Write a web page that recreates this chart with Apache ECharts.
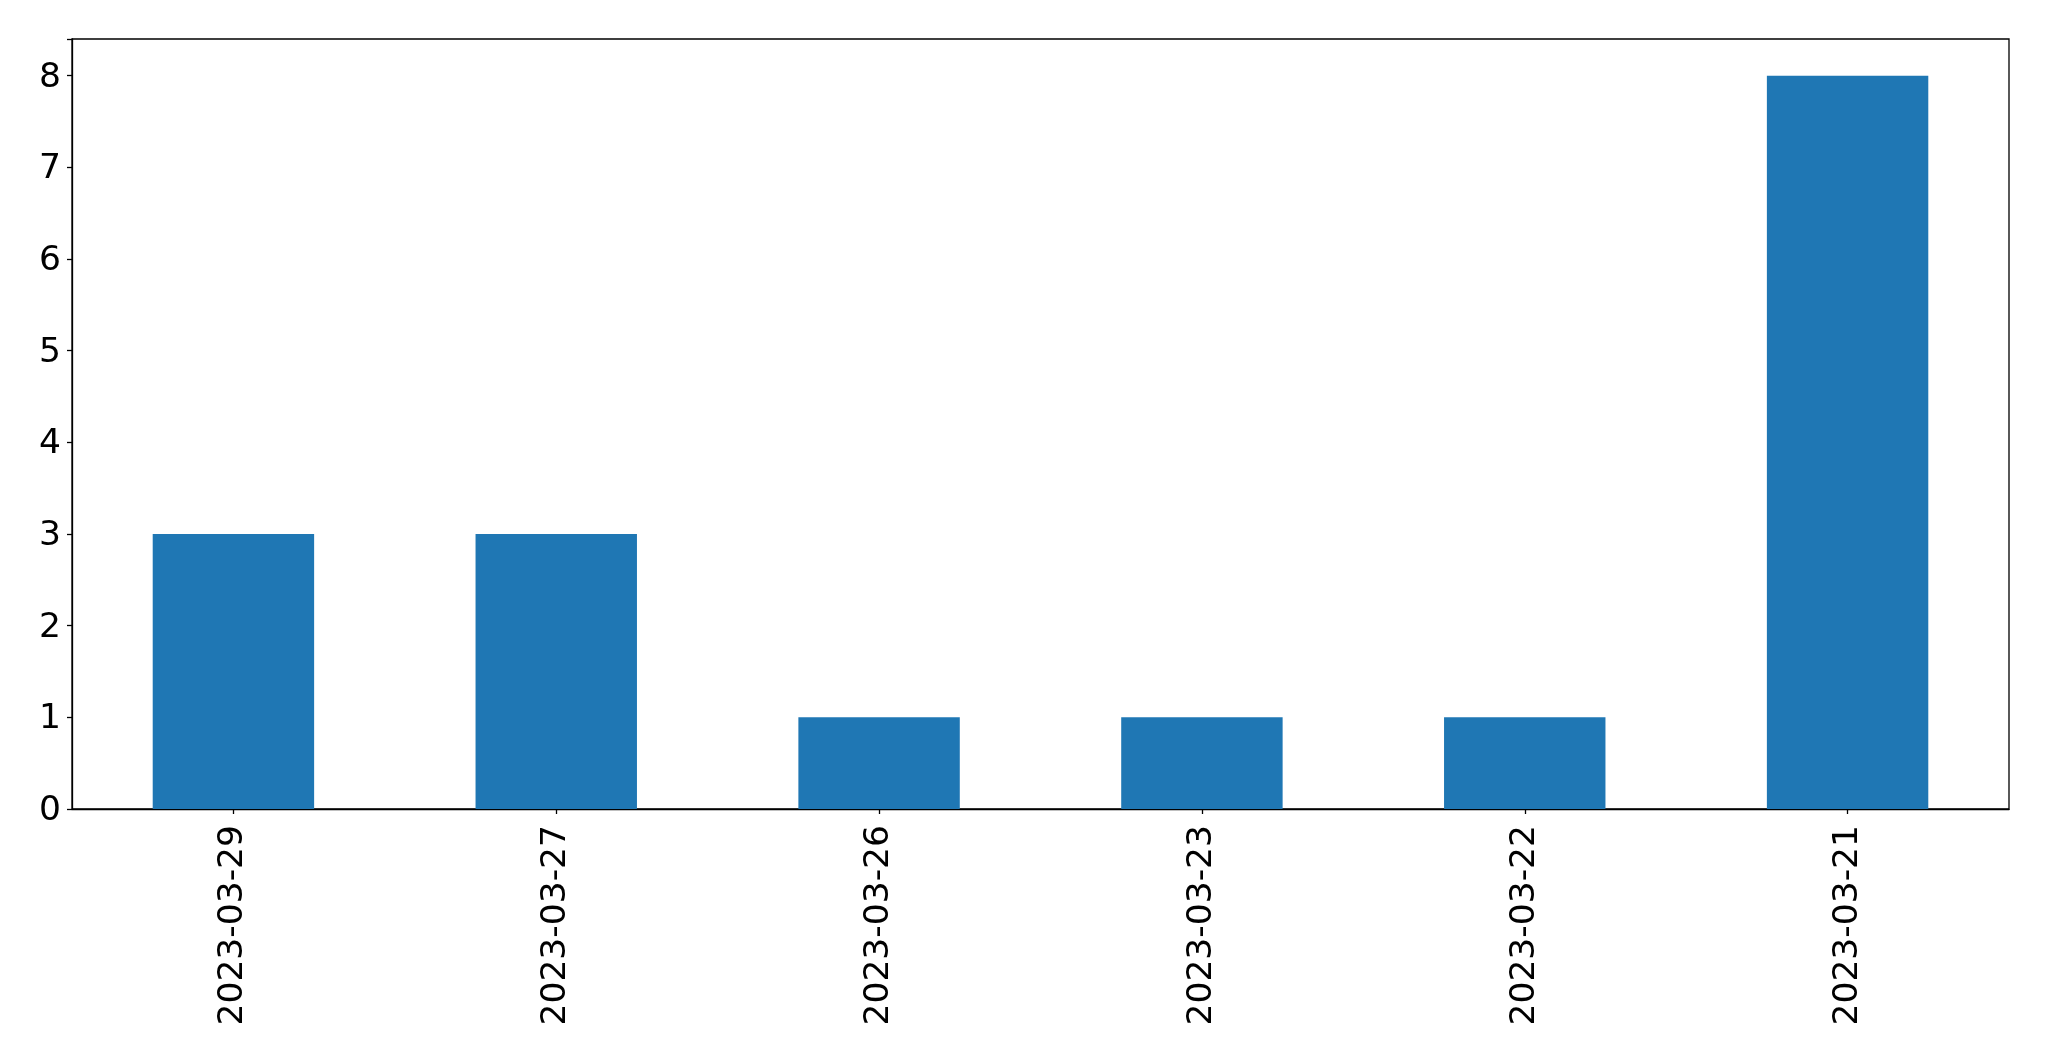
<!DOCTYPE html>
<html>
<head>
<meta charset="utf-8">
<script src="https://cdn.jsdelivr.net/npm/echarts@6/dist/echarts.min.js"></script>
<style>
html,body{margin:0;padding:0;background:#fff;}
#chart{width:2049px;height:1061px;}
</style>
</head>
<body>
<div id="chart"></div>
<script>
const categories = ["2023-03-29", "2023-03-27", "2023-03-26", "2023-03-23", "2023-03-22", "2023-03-21"];
const values = [3, 3, 1, 1, 1, 8];
const yTicks = [0, 1, 2, 3, 4, 5, 6, 7, 8];

const chart = echarts.init(document.getElementById('chart'), null, {renderer: 'canvas'});
const font = '"DejaVu Sans", sans-serif';
chart.setOption({
  animation: false,
  backgroundColor: '#ffffff',
  grid: {
    left: 72, right: 40, top: 39, bottom: 252,
    show: true, borderColor: '#000', borderWidth: 1.3, backgroundColor: 'transparent'
  },
  xAxis: {
    type: 'category',
    data: categories,
    boundaryGap: true,
    axisLine: {show: true, lineStyle: {color: '#000', width: 1.3}},
    axisTick: {show: true, alignWithLabel: true, length: 5, lineStyle: {color: '#000', width: 1.3}},
    axisLabel: {rotate: 90, fontSize: 34.5, fontFamily: font, color: '#000', margin: 16},
    splitLine: {show: false}
  },
  yAxis: {
    type: 'value',
    min: 0, max: 8.4, interval: 1,
    axisLine: {show: true, lineStyle: {color: '#000', width: 1.3}},
    axisTick: {show: true, length: 5, lineStyle: {color: '#000', width: 1.3}},
    axisLabel: {
      fontSize: 34.5, fontFamily: font, color: '#000', margin: 11,
      verticalAlign: 'top', lineHeight: 4,
      formatter: function (v) { return yTicks.indexOf(v) >= 0 ? String(v) : ''; }
    },
    splitLine: {show: false}
  },
  series: [{
    type: 'bar',
    data: values,
    barWidth: '50%',
    itemStyle: {color: '#1f77b4'}
  }]
});
</script>
</body>
</html>
